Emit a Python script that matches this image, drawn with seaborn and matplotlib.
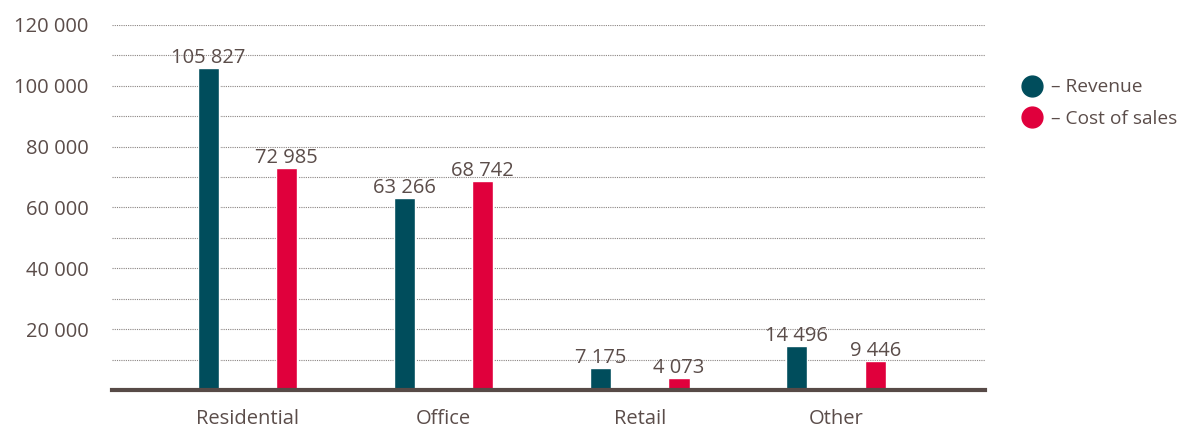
import matplotlib
matplotlib.use("Agg")
import matplotlib.pyplot as plt
from matplotlib.lines import Line2D
import seaborn as sns
import pandas as pd

categories = ["Residential", "Office", "Retail", "Other"]
revenue = [105827, 63266, 7175, 14496]
cost_of_sales = [72985, 68742, 4073, 9446]
series_names = ["Revenue", "Cost of sales"]
y_ticks = list(range(0, 120001, 10000))

TEAL = "#004d5c"
RED = "#e0003c"
TEXT = "#5b4d4a"
BASE = "#574a47"

df = pd.DataFrame({
    "category": categories * 2,
    "series": [series_names[0]] * len(categories) + [series_names[1]] * len(categories),
    "value": revenue + cost_of_sales,
})

sns.set_theme(style="white")
plt.rcParams["font.family"] = ["Open Sans", "DejaVu Sans"]
FS = 14.5

fig = plt.figure(figsize=(11.84, 4.28), dpi=100)
ax = fig.add_axes([0.0946, 0.0888, 0.832 - 0.0946, 0.9416 - 0.0888])

sns.barplot(data=df, x="category", y="value", hue="series", order=categories,
            hue_order=series_names, palette=[TEAL, RED], width=0.8, gap=0.73,
            errorbar=None, ax=ax, legend=False, saturation=1)

fmt = lambda v: f"{int(round(v)):,}".replace(",", " ")
for cont in ax.containers:
    ax.bar_label(cont, labels=[fmt(v) for v in cont.datavalues], padding=0,
                 fontsize=FS, color=TEXT)

ax.set_xlim(-0.69, 3.76)
ax.set_ylim(0, 120000)
ax.set_yticks(y_ticks)
ax.set_yticklabels(["" if (t == 0 or t % 20000) else fmt(t) for t in y_ticks])
ax.yaxis.grid(True, linestyle=(0, (1, 1)), color="#8a8482", linewidth=0.8)
ax.xaxis.grid(False)
ax.set_axisbelow(True)
ax.tick_params(axis="y", length=0, pad=17, labelsize=FS, labelcolor=TEXT)
ax.tick_params(axis="x", length=0, pad=14, labelsize=FS, labelcolor=TEXT)
ax.set_xlabel("")
ax.set_ylabel("")
for s in ["left", "right", "top"]:
    ax.spines[s].set_visible(False)
ax.spines["bottom"].set_color(BASE)
ax.spines["bottom"].set_linewidth(3)
ax.spines["bottom"].set_zorder(5)

handles = [Line2D([], [], marker="o", linestyle="none", markersize=15,
                  markerfacecolor=c, markeredgecolor=c) for c in (TEAL, RED)]
fig.legend(handles, [f"– {n}" for n in series_names], loc="upper left",
           bbox_to_anchor=(0.849, 0.835), frameon=False, fontsize=13.8,
           labelcolor=TEXT, handletextpad=0.0, labelspacing=0.72, borderaxespad=0)

fig.savefig("out.png", dpi=100)
